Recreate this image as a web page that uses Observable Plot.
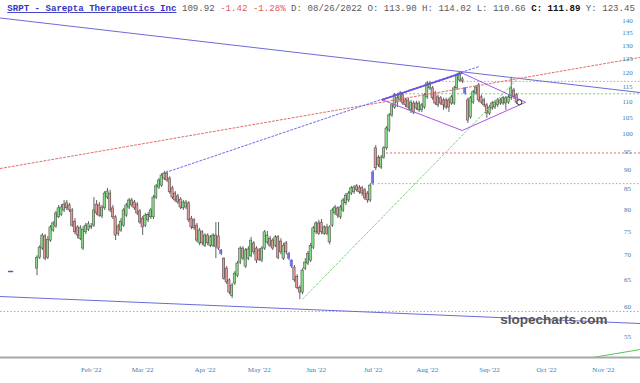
<!DOCTYPE html>
<html><head><meta charset="utf-8">
<script src="https://cdn.jsdelivr.net/npm/d3@7"></script>
<script src="https://cdn.jsdelivr.net/npm/@observablehq/plot@0.6"></script>
<style>
html,body{margin:0;padding:0;background:#fff;}
#chart{width:640px;height:383px;position:relative;}
</style></head><body><div id="chart"></div>
<script>
// Daily candles, trading-day index 0 = first session shown (Jan 2022)
const opens = [67.2,69.4,71.3,73.9,69.4,73.0,75.2,76.1,78.2,78.8,
79.8,81.5,81.0,79.8,77.2,75.9,73.4,71.3,74.8,75.4,
76.1,76.3,81.2,81.0,78.4,80.3,82.9,83.9,80.3,78.2,
76.1,75.2,76.3,78.6,80.5,82.2,81.7,81.2,79.6,77.9,
76.3,77.5,78.2,78.2,82.9,85.4,85.9,87.7,89.0,87.7,
85.2,83.9,83.2,82.4,80.3,80.5,81.5,77.9,77.5,76.3,
72.4,74.8,71.9,74.1,71.9,71.9,74.1,73.9,70.9,69.2,
67.2,64.9,62.0,64.3,65.8,68.4,71.3,67.6,69.2,69.8,
72.4,71.3,70.9,68.8,71.3,72.6,73.4,73.0,71.9,73.7,
72.8,69.2,72.4,70.2,68.8,67.4,65.5,63.5,62.6,67.2,
68.2,68.8,71.5,74.8,76.8,77.0,74.5,75.9,72.6,76.3,
79.1,80.3,78.2,79.8,81.5,82.2,83.9,84.2,85.7,85.4,
85.2,84.7,83.9,82.2,86.4,95.9,93.3,90.6,93.3,95.9,
101.1,105.7,108.2,111.2,110.5,112.2,110.5,110.5,107.3,109.5,
109.5,107.3,107.3,108.2,111.5,114.5,114.5,112.8,111.5,111.2,
110.5,110.5,110.5,109.5,109.5,114.5,117.2,117.6,114.5,110.5,
105.1,109.8,112.8,115.5,111.5,110.5,108.9,106.3,109.5,108.2,
108.9,110.5,109.5,109.5,109.8,111.2,113.8,112.2];
const highs = [69.8,71.9,74.5,74.3,73.9,76.3,77.2,79.6,81.0,81.2,
82.2,82.2,81.5,80.3,77.9,76.3,76.3,76.1,76.8,77.2,
76.8,82.9,82.2,81.7,81.0,84.4,85.2,84.7,81.0,78.6,
76.6,77.9,80.3,81.5,82.7,82.7,82.2,81.7,80.0,78.4,
79.1,79.3,80.3,83.4,86.2,87.7,89.0,89.6,89.6,88.2,
85.7,84.4,83.7,82.9,82.2,82.2,81.9,78.4,77.9,76.8,
75.7,75.2,74.5,74.5,74.1,74.5,77.0,77.0,71.1,69.4,
67.6,65.2,64.3,66.6,68.6,71.7,71.7,71.3,71.7,73.7,
72.8,71.7,71.3,71.7,75.2,75.0,73.9,73.4,74.1,74.1,
73.4,72.4,72.8,70.5,69.0,67.8,66.0,63.9,67.2,69.2,
70.7,72.4,76.1,77.2,77.5,77.7,76.3,76.6,76.3,80.3,
81.0,80.7,81.0,82.7,83.9,84.4,85.7,85.9,86.2,85.9,
85.7,85.2,84.4,86.4,89.8,96.7,93.9,93.9,96.4,102.3,
106.3,109.5,112.8,112.8,113.5,112.8,111.2,111.2,110.5,110.2,
110.2,110.2,109.5,112.8,116.9,116.9,115.2,113.5,112.2,111.8,
111.2,111.2,111.2,112.2,115.2,119.7,120.0,118.3,114.8,111.2,
111.8,113.8,115.5,116.2,112.2,111.2,109.5,108.9,110.2,110.5,
111.2,111.2,111.8,111.8,112.2,118.3,114.5,112.8];
const lows = [65.8,69.0,70.9,68.8,69.0,72.6,74.8,75.7,77.9,78.4,
79.3,79.8,79.3,75.9,74.3,73.4,73.0,70.9,74.3,75.0,
75.4,75.9,78.6,78.2,77.9,79.8,82.4,79.3,77.7,73.0,
73.9,74.8,75.9,78.2,80.0,80.5,79.8,78.6,76.6,74.1,
75.9,77.0,77.7,77.7,82.4,84.9,85.4,87.2,86.7,83.7,
82.4,81.7,81.2,80.0,79.8,80.0,77.0,75.4,75.2,72.6,
71.9,71.9,71.5,71.9,71.5,71.5,69.2,70.9,69.8,64.9,
64.1,62.2,61.5,63.9,65.4,68.0,68.8,67.2,68.8,69.4,
70.0,68.2,68.6,68.4,70.9,72.1,71.5,70.9,71.5,69.0,
70.0,68.8,70.0,68.8,67.2,64.5,63.1,61.3,62.2,66.8,
67.8,68.4,71.1,74.3,74.1,74.3,74.1,74.1,72.1,75.9,
78.6,77.9,77.7,79.3,81.0,81.7,83.4,83.7,84.2,83.7,
83.2,82.2,81.5,81.7,85.9,89.8,90.6,90.1,92.8,95.3,
100.5,105.1,107.6,108.2,109.8,108.9,108.2,107.3,106.3,106.0,
107.3,106.6,106.6,107.6,110.8,113.8,110.5,108.9,108.2,108.9,
107.3,107.6,106.6,108.9,108.9,113.8,116.6,116.2,112.2,103.2,
104.5,109.2,112.2,109.8,109.2,108.2,104.8,105.7,107.3,107.6,
108.2,108.9,108.9,107.3,109.2,110.5,110.8,109.2];
const closes = [69.4,71.5,74.1,69.2,73.2,75.9,76.8,79.1,80.3,80.5,
81.2,80.3,79.8,76.3,74.8,74.1,75.7,75.4,76.3,76.6,
75.9,79.8,79.1,78.6,80.5,83.9,84.4,79.8,78.2,74.1,
74.5,77.2,79.8,81.0,82.2,81.0,80.3,79.1,77.0,75.9,
78.6,78.8,79.8,82.9,85.7,87.2,88.5,89.0,87.2,84.2,
82.9,82.2,81.7,80.5,81.7,81.7,77.5,75.9,75.7,73.0,
75.2,72.4,74.1,72.4,73.7,74.1,71.7,71.3,70.2,65.2,
64.5,62.6,63.9,66.2,68.2,71.3,69.2,70.9,71.1,73.0,
70.5,68.8,69.0,71.3,74.8,74.1,71.9,71.3,73.7,69.4,
70.5,71.9,70.5,69.2,67.6,64.9,63.5,62.6,66.8,68.4,
70.2,71.9,75.7,76.8,74.5,74.8,75.9,74.5,75.9,79.8,
80.5,78.6,80.5,82.2,83.4,83.9,85.2,85.4,84.7,84.2,
83.9,82.7,82.2,85.9,89.3,90.4,91.2,93.3,95.9,101.7,
105.7,108.9,112.2,109.8,112.8,109.5,108.9,108.2,109.8,106.6,
107.9,109.5,108.9,112.2,116.2,116.2,111.2,109.5,108.9,109.5,
108.9,108.2,108.2,111.5,114.5,119.0,119.7,116.9,112.8,104.1,
111.2,113.2,114.8,110.5,109.8,108.9,106.3,108.2,107.9,109.8,
110.5,109.5,111.2,111.2,111.5,114.5,111.5,109.8];
const markedDays = [68, 93, 94, 124, 158];
const lastPrice = [[178, 109.92]];

// Axis ticks (trading-day index of first session of each month)
const monthTickIdx = [20, 39, 62, 82, 103, 124, 144, 167, 188, 209];
const monthLabels = ["Feb '22","Mar '22","Apr '22","May '22","Jun '22","Jul '22","Aug '22","Sep '22","Oct '22","Nov '22"];
const priceTicks = [55,60,65,70,75,80,85,90,95,100,105,110,115,120,125,130,135,140];

// Drawn trendlines: [index, price] endpoints
const upperTrend = [[-13.47, 141.0], [222.69, 113.1]];
const lowerTrend = [[-13.47, 61.87], [222.69, 57.12]];
const redRising = [[-13.47, 90.36], [222.69, 125.5]];
const blueDotted = [[47.5, 89.3], [163.2, 122.2]];
const greenRising = [[98, 61.4], [178, 118.5]];
const greenSolid = [[202.4, 51.48], [222.69, 52.9]];
const diamond = [[127.4, 110.7], [156.9, 119.8], [180.3, 109.9], [156.9, 101.1], [127.4, 110.7]];
const diamondTopEdge = [[127.4, 110.7], [156.9, 119.8]];
const grayLevels = [[147.1, 116.9], [126.0, 86.4], [-13.47, 59.2]];
const greenLevels = [[131.6, 112.7]];
const redLevels = [[127.5, 94.6]];
const blueMark = [[-10.5, 66.6], [-9.0, 66.6]];

const xDomain = [-13.47, 222.69];
const yDomain = [51.66, 148.5];

const candles = opens.map((o, i) => ({i, o, h: highs[i], l: lows[i], c: closes[i]}));
const isMarked = d => markedDays.includes(d.i);
const up = candles.filter(d => !isMarked(d) && d.c >= d.o);
const down = candles.filter(d => !isMarked(d) && d.c < d.o);
const marked = candles.filter(isMarked);

const lineOpts = (stroke, extra = {}) => ({x: d => d[0], y: d => d[1], stroke, strokeWidth: 1, clip: true, ...extra});
const levelOpts = (stroke, dash) => ({y: d => d[1], x1: d => d[0], x2: xDomain[1], stroke, strokeWidth: 1, strokeDasharray: dash, clip: true});
const axisColor = "#3d7cab";

const chart = Plot.plot({
  width: 640, height: 383,
  marginTop: 0, marginRight: 0, marginBottom: 26, marginLeft: 0,
  x: {type: "linear", domain: xDomain, axis: null},
  y: {type: "log", domain: yDomain, axis: null},
  style: {background: "#ffffff", overflow: "visible"},
  marks: [
    Plot.ruleY(grayLevels, levelOpts("#a9a9a9", "1.5,2")),
    Plot.ruleY(greenLevels, levelOpts("#6fcf6f", "2,2")),
    Plot.ruleY(redLevels, levelOpts("#e36b6b", "2,2")),
    Plot.ruleX(candles, {x: "i", y1: "l", y2: "h", stroke: "#3a3a3a", strokeWidth: 0.8}),
    Plot.rect(up, {x1: d => d.i - 0.42, x2: d => d.i + 0.42, y1: "o", y2: "c", fill: "#86dc86", stroke: "#3a3a3a", strokeWidth: 0.5}),
    Plot.rect(down, {x1: d => d.i - 0.42, x2: d => d.i + 0.42, y1: "o", y2: "c", fill: "#e29a9a", stroke: "#3a3a3a", strokeWidth: 0.5}),
    Plot.rect(marked, {x1: d => d.i - 0.42, x2: d => d.i + 0.42, y1: "o", y2: "c", fill: "#7474ea", stroke: "#5a5ad0", strokeWidth: 0.5}),
    Plot.line(upperTrend, lineOpts("#6b6bd9")),
    Plot.line(lowerTrend, lineOpts("#6b6bd9")),
    Plot.line(redRising, lineOpts("#e46a6a", {strokeDasharray: "2,2"})),
    Plot.line(blueDotted, lineOpts("#6b6bea", {strokeDasharray: "2,2"})),
    Plot.line(greenRising, lineOpts("#7dd07d", {strokeDasharray: "2,2"})),
    Plot.line(greenSolid, lineOpts("#5cc25c")),
    Plot.line(diamond, lineOpts("#aa55e6")),
    Plot.line(diamondTopEdge, lineOpts("#6a4fe0", {strokeWidth: 1.6})),
    Plot.line(blueMark, lineOpts("#5555cc", {strokeWidth: 1.5})),
    Plot.dot(lastPrice, {x: d => d[0], y: d => d[1], r: 2.5, stroke: "#333", strokeWidth: 1, fill: "#fff"}),
    Plot.ruleY([yDomain[0]], {stroke: "#a8a8a8", strokeWidth: 2}),
    Plot.text(priceTicks, {y: d => d, text: d => String(d), frameAnchor: "right", dx: -13, textAnchor: "middle", lineAnchor: "middle", fontSize: 7, fill: axisColor, fontFamily: "Liberation Serif, DejaVu Serif, serif"}),
    Plot.text(monthTickIdx, {x: d => d, text: (d, i) => monthLabels[i], frameAnchor: "bottom", dy: 12, textAnchor: "middle", lineAnchor: "middle", fontSize: 7, fill: axisColor, fontFamily: "Liberation Serif, DejaVu Serif, serif"}),
    Plot.text(["slopecharts.com"], {frameAnchor: "bottom-right", dx: -33, dy: -38, textAnchor: "end", lineAnchor: "middle", fontSize: 13.5, fontWeight: "bold", fill: "#555555", fontFamily: "Liberation Sans, Arial, sans-serif"})
  ]
});

document.getElementById("chart").appendChild(chart);

// Header line (ticker info) drawn inside the SVG
const header = d3.select(chart).append("text")
  .attr("x", 7.3).attr("y", 11)
  .attr("text-anchor", "start")
  .attr("font-family", "Liberation Mono, DejaVu Sans Mono, monospace")
  .attr("font-size", 9.1)
  .style("white-space", "pre");
const parts = [
  {t: "SRPT - Sarepta Therapeutics Inc", fill: "#3434c4", bold: true, underline: true},
  {t: " 109.92 ", fill: "#5a5a5a"},
  {t: "-1.42 -1.28%", fill: "#e05a5a"},
  {t: " D: 08/26/2022 O: 113.90 H: 114.02 L: 110.66 ", fill: "#5a5a5a"},
  {t: "C: 111.89", fill: "#111111", bold: true},
  {t: " Y: 123.45", fill: "#5a5a5a"}
];
for (const p of parts) {
  const ts = header.append("tspan").text(p.t).attr("fill", p.fill);
  if (p.bold) ts.attr("font-weight", "bold");
  if (p.underline) ts.attr("text-decoration", "underline");
}
</script>
</body></html>
